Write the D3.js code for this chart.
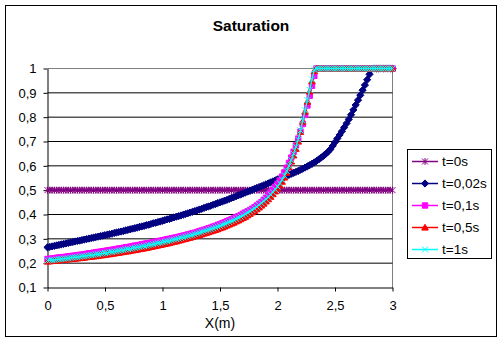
<!DOCTYPE html>
<html><head><meta charset="utf-8">
<script src="https://cdn.jsdelivr.net/npm/d3@7"></script>
<style>body{margin:0;background:#fff}svg{display:block;font-family:"Liberation Sans",Arial,sans-serif}</style>
</head><body><svg id="c" width="503" height="343"></svg>
<script>
const xValues = [
0,0.02,0.04,0.06,0.08,0.1,0.12,0.14,0.16,0.18,
0.2,0.22,0.24,0.26,0.28,0.3,0.32,0.34,0.36,0.38,
0.4,0.42,0.44,0.46,0.48,0.5,0.52,0.54,0.56,0.58,
0.6,0.62,0.64,0.66,0.68,0.7,0.72,0.74,0.76,0.78,
0.8,0.82,0.84,0.86,0.88,0.9,0.92,0.94,0.96,0.98,
1,1.02,1.04,1.06,1.08,1.1,1.12,1.14,1.16,1.18,
1.2,1.22,1.24,1.26,1.28,1.3,1.32,1.34,1.36,1.38,
1.4,1.42,1.44,1.46,1.48,1.5,1.52,1.54,1.56,1.58,
1.6,1.62,1.64,1.66,1.68,1.7,1.72,1.74,1.76,1.78,
1.8,1.82,1.84,1.86,1.88,1.9,1.92,1.94,1.96,1.98,
2,2.02,2.04,2.06,2.08,2.1,2.12,2.14,2.16,2.18,
2.2,2.22,2.24,2.26,2.28,2.3,2.32,2.34,2.36,2.38,
2.4,2.42,2.44,2.46,2.48,2.5,2.52,2.54,2.56,2.58,
2.6,2.62,2.64,2.66,2.68,2.7,2.72,2.74,2.76,2.78,
2.8,2.82,2.84,2.86,2.88,2.9,2.92,2.94,2.96,2.98,
3];
const sT0 = [
0.5,0.5,0.5,0.5,0.5,0.5,0.5,0.5,0.5,0.5,
0.5,0.5,0.5,0.5,0.5,0.5,0.5,0.5,0.5,0.5,
0.5,0.5,0.5,0.5,0.5,0.5,0.5,0.5,0.5,0.5,
0.5,0.5,0.5,0.5,0.5,0.5,0.5,0.5,0.5,0.5,
0.5,0.5,0.5,0.5,0.5,0.5,0.5,0.5,0.5,0.5,
0.5,0.5,0.5,0.5,0.5,0.5,0.5,0.5,0.5,0.5,
0.5,0.5,0.5,0.5,0.5,0.5,0.5,0.5,0.5,0.5,
0.5,0.5,0.5,0.5,0.5,0.5,0.5,0.5,0.5,0.5,
0.5,0.5,0.5,0.5,0.5,0.5,0.5,0.5,0.5,0.5,
0.5,0.5,0.5,0.5,0.5,0.5,0.5,0.5,0.5,0.5,
0.5,0.5,0.5,0.5,0.5,0.5,0.5,0.5,0.5,0.5,
0.5,0.5,0.5,0.5,0.5,0.5,0.5,0.5,0.5,0.5,
0.5,0.5,0.5,0.5,0.5,0.5,0.5,0.5,0.5,0.5,
0.5,0.5,0.5,0.5,0.5,0.5,0.5,0.5,0.5,0.5,
0.5,0.5,0.5,0.5,0.5,0.5,0.5,0.5,0.5,0.5,
0.5];
const sT002 = [
0.265,0.267,0.269,0.271,0.273,0.275,0.277,0.279,0.281,0.283,
0.285,0.287,0.289,0.291,0.293,0.295,0.297,0.299,0.301,0.303,
0.305,0.307,0.309,0.311,0.313,0.315,0.317,0.319,0.321,0.324,
0.326,0.328,0.330,0.332,0.335,0.337,0.339,0.342,0.344,0.346,
0.349,0.351,0.353,0.356,0.358,0.361,0.364,0.366,0.369,0.371,
0.374,0.377,0.380,0.382,0.385,0.388,0.391,0.393,0.396,0.399,
0.402,0.405,0.408,0.411,0.414,0.417,0.420,0.423,0.427,0.430,
0.433,0.436,0.440,0.443,0.447,0.450,0.453,0.457,0.460,0.464,
0.468,0.471,0.475,0.479,0.482,0.486,0.490,0.494,0.497,0.501,
0.505,0.509,0.513,0.516,0.520,0.524,0.528,0.532,0.536,0.540,
0.544,0.548,0.551,0.555,0.559,0.563,0.567,0.571,0.575,0.579,
0.584,0.588,0.593,0.598,0.603,0.608,0.614,0.620,0.627,0.634,
0.641,0.649,0.658,0.668,0.682,0.697,0.712,0.727,0.742,0.758,
0.774,0.791,0.810,0.830,0.850,0.870,0.890,0.911,0.932,0.954,
0.976,0.998,1,1,1,1,1,1,1,1,
1];
const sT01 = [
0.217,0.218,0.219,0.220,0.222,0.223,0.224,0.225,0.226,0.228,
0.229,0.230,0.231,0.233,0.234,0.235,0.237,0.238,0.240,0.241,
0.243,0.244,0.246,0.247,0.249,0.250,0.252,0.253,0.255,0.256,
0.258,0.260,0.261,0.263,0.265,0.266,0.268,0.270,0.272,0.273,
0.275,0.277,0.279,0.281,0.282,0.284,0.286,0.288,0.290,0.292,
0.294,0.296,0.298,0.300,0.302,0.304,0.306,0.308,0.311,0.313,
0.315,0.318,0.320,0.323,0.325,0.328,0.331,0.334,0.337,0.340,
0.343,0.346,0.350,0.353,0.357,0.360,0.364,0.368,0.372,0.376,
0.380,0.384,0.389,0.393,0.398,0.403,0.408,0.413,0.418,0.424,
0.430,0.437,0.444,0.451,0.460,0.469,0.479,0.490,0.502,0.514,
0.526,0.540,0.556,0.573,0.592,0.612,0.634,0.658,0.684,0.712,
0.741,0.772,0.809,0.848,0.888,0.929,0.970,1,1,1,
1,1,1,1,1,1,1,1,1,1,
1,1,1,1,1,1,1,1,1,1,
1,1,1,1,1,1,1,1,1,1,
1];
const sT05 = [
0.207,0.208,0.209,0.210,0.211,0.212,0.213,0.214,0.215,0.216,
0.217,0.218,0.219,0.220,0.221,0.222,0.223,0.225,0.226,0.227,
0.228,0.229,0.231,0.232,0.233,0.235,0.236,0.237,0.239,0.240,
0.242,0.243,0.245,0.246,0.248,0.249,0.251,0.253,0.254,0.256,
0.258,0.260,0.261,0.263,0.265,0.267,0.269,0.271,0.273,0.275,
0.277,0.279,0.281,0.283,0.286,0.288,0.290,0.293,0.295,0.298,
0.300,0.303,0.305,0.308,0.311,0.313,0.316,0.319,0.322,0.325,
0.328,0.331,0.334,0.337,0.340,0.344,0.347,0.351,0.355,0.359,
0.363,0.367,0.372,0.376,0.381,0.386,0.391,0.397,0.403,0.409,
0.415,0.422,0.429,0.437,0.445,0.454,0.463,0.473,0.484,0.495,
0.507,0.520,0.535,0.552,0.572,0.595,0.618,0.643,0.670,0.700,
0.740,0.782,0.823,0.864,0.906,0.948,0.990,1,1,1,
1,1,1,1,1,1,1,1,1,1,
1,1,1,1,1,1,1,1,1,1,
1,1,1,1,1,1,1,1,1,1,
1];
const sT1 = [
0.211,0.212,0.213,0.214,0.215,0.216,0.217,0.218,0.219,0.220,
0.222,0.223,0.224,0.225,0.226,0.228,0.229,0.230,0.232,0.233,
0.234,0.236,0.237,0.239,0.240,0.242,0.243,0.245,0.246,0.248,
0.249,0.251,0.253,0.254,0.256,0.258,0.259,0.261,0.263,0.265,
0.266,0.268,0.270,0.272,0.274,0.276,0.278,0.280,0.282,0.284,
0.286,0.288,0.290,0.292,0.294,0.297,0.299,0.301,0.304,0.306,
0.309,0.311,0.314,0.316,0.319,0.322,0.325,0.328,0.331,0.334,
0.337,0.340,0.343,0.347,0.350,0.353,0.357,0.361,0.365,0.369,
0.373,0.377,0.382,0.386,0.391,0.396,0.402,0.407,0.413,0.419,
0.425,0.432,0.439,0.447,0.455,0.463,0.472,0.482,0.492,0.503,
0.515,0.528,0.543,0.560,0.579,0.600,0.624,0.650,0.678,0.708,
0.745,0.786,0.828,0.870,0.912,0.955,0.995,1,1,1,
1,1,1,1,1,1,1,1,1,1,
1,1,1,1,1,1,1,1,1,1,
1,1,1,1,1,1,1,1,1,1,
1];
const seriesNames = ["t=0s","t=0,02s","t=0,1s","t=0,5s","t=1s"];
const xTicks = [0,0.5,1,1.5,2,2.5,3];
const yTicks = [0.1,0.2,0.3,0.4,0.5,0.6,0.7,0.8,0.9,1];
const titleText = "Saturation";
const xTitle = "X(m)";

const seriesData = [sT0, sT002, sT01, sT05, sT1];
const colors = ["#800080","#000080","#FF00FF","#FF0000","#00FFFF"];
const markerPaths = [
  {d:"M-3,-3L3,3M3,-3L-3,3M0,-3.5L0,3.5", fill:false},
  {d:"M0,-3.6L3.6,0L0,3.6L-3.6,0Z", fill:true},
  {d:"M-2.7,-2.7h5.4v5.4h-5.4Z", fill:true},
  {d:"M0,-3.2L3.3,2.6L-3.3,2.6Z", fill:true},
  {d:"M-3,-3L3,3M3,-3L-3,3", fill:false}
];

const svg = d3.select("#c");
const fmt = v => String(v).replace(".", ",");
const x = d3.scaleLinear().domain([0,3]).range([47.5,392.5]);
const y = d3.scaleLinear().domain([0.1,1]).range([287.5,68.5]);

svg.append("rect").attr("x",5.5).attr("y",5.5).attr("width",491).attr("height",331)
  .attr("fill","#fff").attr("stroke","#000").attr("stroke-width",1);

svg.append("text").attr("x",251).attr("y",31).attr("text-anchor","middle")
  .attr("font-size","15.5px").attr("font-weight","bold").text(titleText);

svg.append("path").attr("d",`M${x(0)},${y(1)}H${x(3)}V${y(0.1)}`)
  .attr("fill","none").attr("stroke","#808080");

svg.append("g").selectAll("line").data(yTicks.filter(v=>v>0.15 && v<0.95)).join("line")
  .attr("x1",x(0)).attr("x2",x(3)).attr("y1",d=>y(d)).attr("y2",d=>y(d))
  .attr("stroke","#000").attr("stroke-width",1);

const gy = svg.append("g").attr("transform",`translate(${x(0)},0)`)
  .call(d3.axisLeft(y).tickValues(yTicks).tickFormat(fmt).tickSize(4).tickSizeOuter(0).tickPadding(7));
const gx = svg.append("g").attr("transform",`translate(0,${y(0.1)})`)
  .call(d3.axisBottom(x).tickValues(xTicks).tickFormat(fmt).tickSize(4).tickSizeOuter(0).tickPadding(9));
[gx,gy].forEach(g=>{
  g.selectAll("text").attr("font-size","13px").attr("fill","#000").attr("font-family","Liberation Sans, Arial, sans-serif");
  g.select(".domain").attr("stroke","#000");
  g.selectAll(".tick line").attr("stroke","#000");
});

svg.append("text").attr("x",220).attr("y",328).attr("text-anchor","middle")
  .attr("font-size","14px").text(xTitle);

const line = d3.line().x((d,i)=>x(xValues[i])).y(d=>y(d));
seriesData.forEach((s,k)=>{
  const g = svg.append("g");
  g.append("path").attr("d",line(s)).attr("fill","none").attr("stroke",colors[k]).attr("stroke-width",1.5);
  g.selectAll("path.m").data(s).join("path").attr("class","m")
    .attr("transform",(d,i)=>`translate(${x(xValues[i])},${y(d)})`)
    .attr("d",markerPaths[k].d)
    .attr("fill",markerPaths[k].fill?colors[k]:"none")
    .attr("stroke",colors[k]).attr("stroke-width",1);
});

const lg = svg.append("g");
lg.append("rect").attr("x",407.5).attr("y",149.5).attr("width",84).attr("height",109)
  .attr("fill","#fff").attr("stroke","#000");
seriesNames.forEach((n,k)=>{
  const yy = 161.5 + k*22;
  lg.append("line").attr("x1",412).attr("x2",438).attr("y1",yy).attr("y2",yy)
    .attr("stroke",colors[k]).attr("stroke-width",1.5);
  lg.append("path").attr("transform",`translate(425,${yy})`).attr("d",markerPaths[k].d)
    .attr("fill",markerPaths[k].fill?colors[k]:"none").attr("stroke",colors[k]);
  lg.append("text").attr("x",442).attr("y",yy+4.5).attr("font-size","13.5px").text(n);
});
</script></body></html>
